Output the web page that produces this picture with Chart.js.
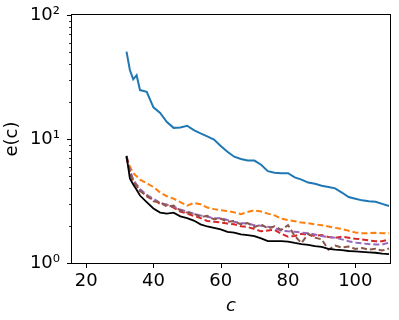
<!DOCTYPE html>
<html>
<head>
<meta charset="utf-8">
<script src="https://cdn.jsdelivr.net/npm/chart.js@4.4.1/dist/chart.umd.min.js"></script>
<style>
    html, body { margin: 0; padding: 0; background: #fff; }
    canvas { display: block; }
</style>
</head>
<body>
<canvas id="chart" width="399" height="320"></canvas>
<script>
// c values (x axis)
const cValues = [32, 33, 34, 35, 36, 38, 40, 42, 44, 46, 48, 50, 52, 54, 56, 58, 60, 62, 64, 66, 68,
    70, 72, 74, 76, 78, 80, 82, 84, 86, 88, 90, 92, 94, 96, 98, 100, 102, 104, 106, 108, 110];

// e(c) per series
const blueVals = [50.6, 36, 30.3, 32.7, 24.8, 24, 18.0, 16.2, 13.7, 12.3, 12.4, 12.8, 11.8, 11.1, 10.5, 9.9, 8.8,
    7.9, 7.2, 6.9, 6.7, 6.7, 6.2, 5.5, 5.35, 5.3, 5.3, 4.9, 4.7, 4.45, 4.35, 4.2, 4.1, 4.0, 3.7, 3.4, 3.3,
    3.2, 3.15, 3.12, 3.0, 2.88];
const orangeVals = [7.2, 6.0, 5.3, 5.0, 4.7, 4.4, 4.1, 3.7, 3.45, 3.3, 3.1, 2.9, 3.05, 2.98, 2.8, 2.72, 2.66,
    2.62, 2.56, 2.48, 2.58, 2.66, 2.6, 2.5, 2.42, 2.28, 2.22, 2.17, 2.12, 2.09, 2.05, 2.02, 1.97, 1.92, 1.88,
    1.82, 1.76, 1.74, 1.74, 1.75, 1.74, 1.74];
const redVals = [7.1, 5.4, 4.6, 4.2, 3.85, 3.45, 3.25, 3.0, 2.95, 2.8, 2.6, 2.5, 2.4, 2.3, 2.18, 2.15, 2.12,
    2.08, 2.05, 1.98, 1.95, 1.88, 1.8, 1.83, 1.85, 1.72, 1.63, 1.65, 1.72, 1.68, 1.66, 1.68, 1.62, 1.6, 1.63,
    1.6, 1.57, 1.55, 1.52, 1.5, 1.5, 1.55];
const purpleVals = [7.3, 5.6, 4.7, 4.3, 3.95, 3.55, 3.3, 3.05, 2.95, 2.85, 2.7, 2.6, 2.5, 2.42, 2.36, 2.3, 2.3,
    2.22, 2.15, 2.1, 2.08, 2.02, 2.0, 1.96, 1.92, 1.82, 1.8, 1.79, 1.76, 1.74, 1.7, 1.65, 1.62, 1.6, 1.55,
    1.5, 1.46, 1.44, 1.42, 1.41, 1.41, 1.46];
const brownVals = [7.2, 5.5, 4.5, 4.2, 3.8, 3.5, 3.15, 3.1, 2.85, 2.9, 2.65, 2.55, 2.5, 2.35, 2.4, 2.25, 2.28,
    2.15, 2.18, 2.05, 2.1, 1.95, 2.05, 1.9, 1.98, 1.85, 2.02, 1.65, 1.45, 1.72, 1.6, 1.55, 1.28, 1.38, 1.33,
    1.36, 1.3, 1.32, 1.28, 1.3, 1.26, 1.31];
const blackVals = [7.3, 4.8, 4.3, 3.9, 3.5, 3.1, 2.75, 2.55, 2.5, 2.55, 2.38, 2.3, 2.2, 2.05, 1.97, 1.92, 1.87,
    1.78, 1.76, 1.7, 1.68, 1.65, 1.58, 1.5, 1.5, 1.5, 1.49, 1.45, 1.42, 1.4, 1.37, 1.35, 1.3, 1.28, 1.27,
    1.25, 1.24, 1.23, 1.22, 1.21, 1.19, 1.18];

// axes
const xTicks = [20, 40, 60, 80, 100];
const yMajor = [1, 10, 100];
const yTickLabels = ['10⁰', '10¹', '10²'];
const yMinor = [2, 3, 4, 5, 6, 7, 8, 9, 20, 30, 40, 50, 60, 70, 80, 90];

const FONT = 'DejaVu Sans';

function pts(vals) {
    return vals.map((v, i) => ({ x: cValues[i], y: v }));
}

function line(vals, color, dashed, width) {
    return {
        data: pts(vals),
        borderColor: color,
        borderWidth: width || 2,
        borderDash: dashed ? [6, 3] : [],
        pointRadius: 0,
        tension: 0,
        fill: false
    };
}

// 画框和刻度线 (matplotlib style)
const frameTicks = {
    id: 'frameTicks',
    afterDraw(chart) {
        const { ctx, chartArea: a, scales } = chart;
        ctx.save();
        ctx.strokeStyle = '#000';
        ctx.lineWidth = 1;
        ctx.strokeRect(Math.round(a.left) - 0.5, Math.round(a.top) - 0.5,
            Math.round(a.right - a.left) + 1, Math.round(a.bottom - a.top) + 1);
        ctx.beginPath();
        xTicks.forEach(v => {
            const x = Math.round(scales.x.getPixelForValue(v)) + 0.5;
            ctx.moveTo(x, a.bottom);
            ctx.lineTo(x, a.bottom + 5);
        });
        yMajor.forEach(v => {
            const y = Math.round(scales.y.getPixelForValue(v)) + 0.5;
            ctx.moveTo(a.left, y);
            ctx.lineTo(a.left - 5, y);
        });
        ctx.stroke();
        ctx.beginPath();
        ctx.lineWidth = 0.8;
        yMinor.forEach(v => {
            const y = Math.round(scales.y.getPixelForValue(v)) + 0.5;
            ctx.moveTo(a.left, y);
            ctx.lineTo(a.left - 3, y);
        });
        ctx.stroke();
        ctx.restore();
    }
};

new Chart(document.getElementById('chart'), {
    type: 'line',
    data: {
        datasets: [
            line(blackVals, '#000000', false, 1.8),
            line(brownVals, '#8c564b', true),
            line(purpleVals, '#9467bd', true),
            line(redVals, '#d62728', true),
            line(orangeVals, '#ff7f0e', true),
            line(blueVals, '#1f77b4', false)
        ]
    },
    options: {
        responsive: false,
        animation: false,
        layout: { padding: { left: 0, top: 15, right: 9, bottom: 0 } },
        plugins: { legend: { display: false }, tooltip: { enabled: false } },
        scales: {
            x: {
                type: 'linear',
                min: 15.8,
                max: 110.3,
                grid: { display: false },
                border: { display: false },
                afterBuildTicks: s => { s.ticks = xTicks.map(v => ({ value: v })); },
                afterFit: s => { s.height = 57; },
                ticks: { color: '#000', padding: 0, font: { family: FONT, size: 18 }, maxRotation: 0 },
                title: {
                    display: true, text: 'c', color: '#000',
                    font: { family: FONT, size: 18, style: 'italic' },
                    padding: { top: 0, bottom: 3 }
                }
            },
            y: {
                type: 'logarithmic',
                min: 1,
                max: 100,
                grid: { display: false },
                border: { display: false },
                afterBuildTicks: s => { s.ticks = yMajor.map(v => ({ value: v, major: true })); },
                afterFit: s => { s.width = 72; },
                ticks: {
                    color: '#000', padding: 4, font: { family: FONT, size: 18 },
                    callback: v => yTickLabels[yMajor.indexOf(v)]
                },
                title: {
                    display: true, text: 'e(c)', color: '#000',
                    font: { family: FONT, size: 18 },
                    padding: { top: 2, bottom: 0 }
                }
            }
        }
    },
    plugins: [frameTicks]
});
</script>
</body>
</html>
